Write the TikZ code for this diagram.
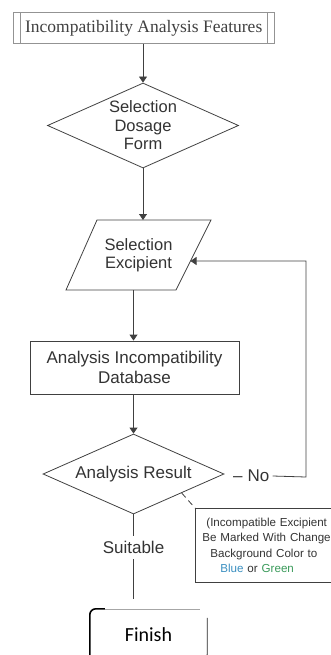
\documentclass[tikz,border=0pt]{standalone}
\usepackage{fontspec}
\setmainfont{Liberation Sans}
\newfontfamily\serifT{Liberation Serif}
\newfontfamily\calib{Carlito}
\usetikzlibrary{shapes.geometric,arrows.meta,calc}
\definecolor{ln}{HTML}{404040}
\definecolor{tx}{HTML}{333333}
\definecolor{bl}{HTML}{3A8FC0}
\definecolor{gr}{HTML}{3A9A5A}
\begin{document}
\begin{tikzpicture}[x=1pt,y=-1pt,
  every node/.style={text=tx, font=\fontsize{17}{19.5}\selectfont},
  box/.style={draw=ln, line width=0.8pt, inner sep=0pt},
  dec/.style={box, shape=diamond, aspect=2.26},
  arr/.style={draw=ln, line width=0.8pt, -{Triangle[length=6pt,width=8pt]}},
  con/.style={draw=ln, line width=0.8pt}]
\useasboundingbox (0,0) rectangle (331,655);
\clip (0,0) rectangle (331,655);

% title
\node[box, draw=gray!85, minimum width=260.7pt, minimum height=30.6pt,
      font=\serifT\fontsize{17.5}{20}\selectfont, text=black!75] (title) at (143.7,28) {Incompatibility Analysis Features};
\draw[gray!85, line width=0.8pt] ([xshift=7pt]title.north west) -- ([xshift=7pt]title.south west)
      ([xshift=-7pt]title.north east) -- ([xshift=-7pt]title.south east);

% dosage form decision
\node[dec, minimum width=191pt, minimum height=85pt, align=center,
      font=\fontsize{16.5}{18.5}\selectfont] (dose) at (143,125.5) {Selection\\Dosage\\Form};

% excipient parallelogram
\coordinate (p1) at (97,220);
\coordinate (p2) at (211,220);
\coordinate (p3) at (176,290);
\coordinate (p4) at (66,290);
\draw[con] (p1) -- (p2) -- (p3) -- (p4) -- cycle;
\node[align=center, font=\fontsize{16.5}{18.5}\selectfont] (exc) at (138.5,255) {Selection\\Excipient};
\coordinate (pin) at (143,220);
\coordinate (pout) at (133.5,290);
\coordinate (pright) at (190.5,261);

% database
\node[box, minimum width=209pt, minimum height=53pt, align=center] (db) at (134.5,367.5) {Analysis Incompatibility\\Database};

% result decision
\node[dec, minimum width=181pt, minimum height=80pt] (res) at (133.5,474) {Analysis Result};

% No label
\node[anchor=west, inner sep=0pt] (no) at (233,476) {–\hspace{5pt}No};
\coordinate (corner) at (306,477);

% note
\node[draw=ln, line width=0.8pt, anchor=north west, minimum width=150pt, minimum height=74pt,
      text width=136pt, inner xsep=6pt, align=left,
      font=\fontsize{11.6}{15.3}\selectfont] (note) at (195,508)
  {\hspace*{4pt}(Incompatible Excipient\\
   Be Marked With Change\\
   \hspace*{8pt}Background Color to\\
   \hspace*{18pt}{\color{bl}Blue} or {\color{gr}Green}};
\coordinate (cs) at ($(res.east)!0.47!(res.south)$);

% finish
\node[minimum width=117pt, minimum height=51pt, inner sep=0pt,
      font=\calib\fontsize{20}{24}\selectfont, text=black] (fin) at (148.5,634.5) {Finish};
\draw[black, line width=1.6pt, rounded corners=6pt] (fin.south west) -- (fin.north west) -- ([xshift=15pt]fin.north west);
\draw[gray!70, line width=0.6pt] ([xshift=15pt]fin.north west) -- ([xshift=-7pt]fin.north east);
\draw[black!85, line width=0.8pt, rounded corners=6pt] ([yshift=-9pt]fin.north east) -- (fin.south east) -- ([xshift=-15pt]fin.south east);

\coordinate (send) at (133.5,599);

% connectors
\draw[arr] (title.south -| dose.north) -- (dose.north);
\draw[arr] (dose.south) -- (pin);
\draw[arr] (pout) -- (pout |- db.north);
\draw[arr] (res.north |- db.south) -- (res.north);
\draw[arr] ([xshift=3pt]no.east) -- (corner) |- (pright);
\draw[con, dash pattern=on 6pt off 4pt] (cs) -- (note.north west);
\draw[con] (res.south) -- node[pos=0.39, fill=white, inner xsep=1pt, inner ysep=5pt] (suit) {Suitable} (send);
\end{tikzpicture}
\end{document}
